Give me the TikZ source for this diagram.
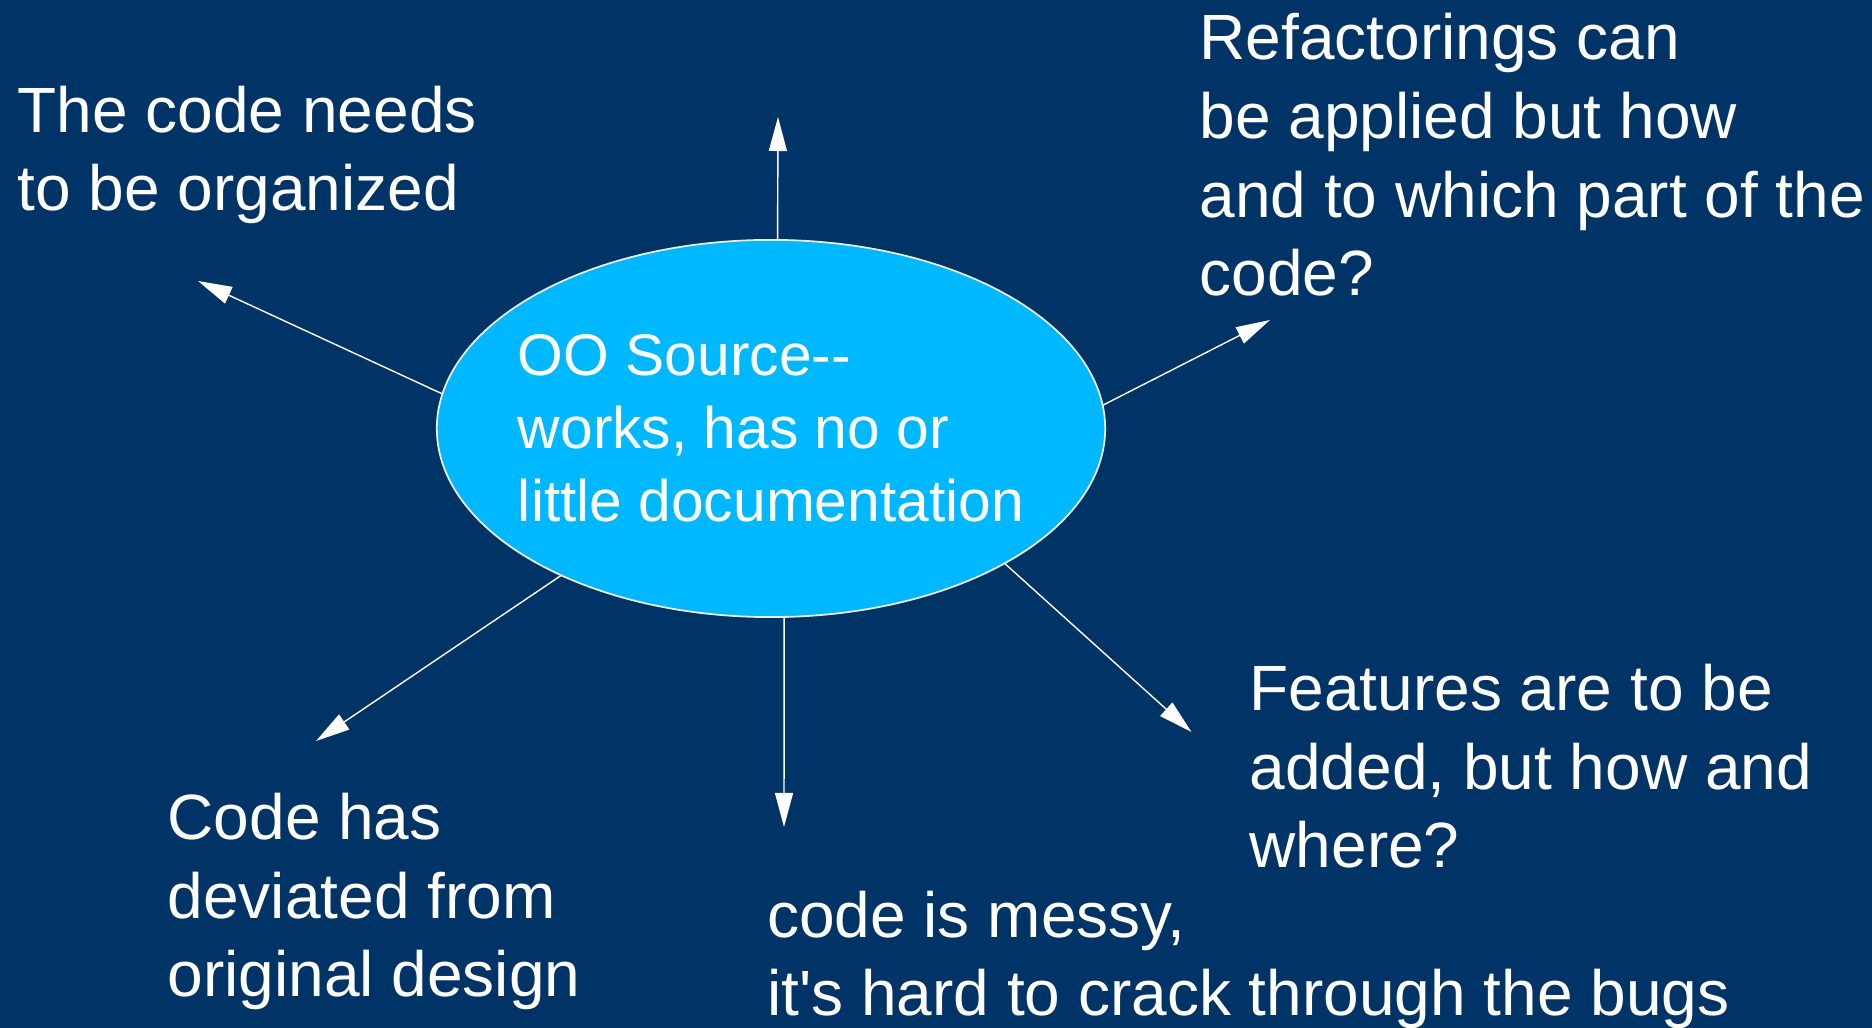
\documentclass[tikz,border=0pt]{standalone}
\usepackage{fontspec}
\setmainfont{Liberation Sans}[Ligatures=TeXOff]
\usetikzlibrary{shapes.geometric,arrows.meta}
\definecolor{bgblue}{RGB}{0,51,102}
\definecolor{ovalblue}{RGB}{0,184,255}
\tikzset{
  note/.style={anchor=base west, align=left, inner sep=0pt, text=white,
    font=\fontsize{18.2}{22.4}\selectfont},
  oval/.style={ellipse, fill=ovalblue, draw=white!85!gray, line width=0.5pt,
    minimum width=6.68cm, minimum height=3.77cm, inner sep=0pt, outer sep=0pt},
  arr/.style={draw=white, line width=0.4pt, -{Triangle[length=3.4mm,width=1.8mm]}},
}
\begin{document}
\begin{tikzpicture}[x=0.01cm, y=-0.01cm]
      \useasboundingbox (0,0) rectangle (1872,1028);
      \fill[bgblue] (0,0) rectangle (1872,1028);

      \node[oval] (src) at (771,428.5) {};
      \node[inner sep=0pt, align=left, text=white, font=\fontsize{16.7}{20.7}\selectfont]
        (srctext) at (src.center) {OO Source--\\works, has no or\\little documentation};

      % notes: anchored at the baseline of their last line
      \node[note] (n1) at (17,211) {The code needs\\to be organized};
      \node[note] (n2) at (1199,296) {Refactorings can\\be applied but how\\and to which part of the\\code?};
      \node[note] (n3) at (1249,868) {Features are to be\\added, but how and\\where?};
      \node[note] (n4) at (167,997) {Code has\\deviated from\\original design};
      \node[note] (n5) at (766.5,1016) {code is messy,\\it's hard to crack through the bugs};

      \coordinate (t1) at (778,117);
      \coordinate (t2) at (198,281);
      \coordinate (t3) at (1270,320);
      \coordinate (t4) at (1191.5,732);
      \coordinate (t5) at (784,827);
      \coordinate (t6) at (316,741);

      \draw[arr] (src.88) -- (t1);
      \draw[arr] (src.174) -- (t2);
      \draw[arr] (src.4) -- (t3);
      \draw[arr] (src.-30) -- (t4);
      \draw[arr] (src.-86) -- (t5);
      \draw[arr] (src.-145) -- (t6);
\end{tikzpicture}
\end{document}
